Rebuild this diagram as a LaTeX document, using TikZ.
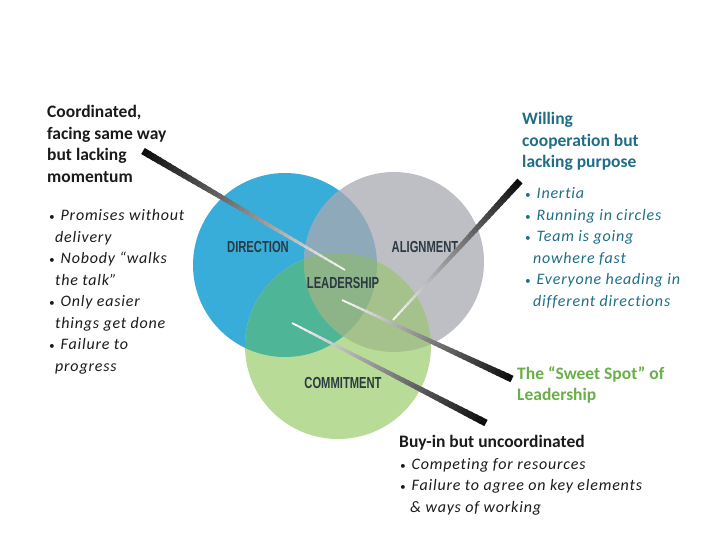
\documentclass[tikz,border=0pt]{standalone}
\usepackage{fontspec}
\setmainfont[Ligatures={NoCommon}]{Carlito}
\newfontfamily\condfont[FakeStretch=0.7]{Liberation Sans}
\newfontfamily\itlfont[LetterSpace=5,Ligatures={NoCommon}]{Carlito}
\usetikzlibrary{calc}
\definecolor{cblue}{HTML}{39ADDA}
\definecolor{cgray}{HTML}{BEBFC4}
\definecolor{cgreen}{HTML}{B8DC98}
\definecolor{cbg}{HTML}{8EA9B9}
\definecolor{cbgr}{HTML}{4FB597}
\definecolor{cggr}{HTML}{A6C28C}
\definecolor{call}{HTML}{8CB488}
\definecolor{lbl}{HTML}{2B3A42}
\definecolor{teal}{HTML}{1F6E86}
\definecolor{sweet}{HTML}{6AAE4A}
\definecolor{ink}{HTML}{1A1A1A}
\newcommand\lns[1]{\vtop{\baselineskip=21.5pt\lineskiplimit=-100pt\halign{##\hfil\cr#1\crcr}}}
\newcommand\bul{{\fontsize{11}{11}\selectfont•}\hspace*{6pt}}
\begin{document}
\begin{tikzpicture}[x=1pt,y=-1pt,
  head/.style={anchor=base west, inner sep=0pt, font=\fontsize{17.5}{21.5}\selectfont\bfseries},
  itl/.style={anchor=base west, inner sep=0pt, font=\itlfont\fontsize{16}{21.5}\selectfont\itshape},
  vlabel/.style={font=\condfont\bfseries\fontsize{16}{16}\selectfont, text=lbl, inner sep=0pt}]
\useasboundingbox (0,0) rectangle (720,540);
% circles
\coordinate (B) at (285,265);
\coordinate (G) at (394,262);
\coordinate (C) at (338,346);
\fill[cblue] (B) circle (92pt);
\fill[cgray] (G) circle (90pt);
\fill[cgreen] (C) circle (93pt);
\begin{scope}\clip (B) circle (92pt); \fill[cbg] (G) circle (90pt);\end{scope}
\begin{scope}\clip (B) circle (92pt); \fill[cbgr] (C) circle (93pt);\end{scope}
\begin{scope}\clip (G) circle (90pt); \fill[cggr] (C) circle (93pt);\end{scope}
\begin{scope}\clip (B) circle (92pt); \clip (G) circle (90pt); \fill[call] (C) circle (93pt);\end{scope}
% labels
\node[vlabel] (dir) at (258,247) {DIRECTION};
\node[vlabel] (ali) at (425,247) {ALIGNMENT};
\node[vlabel] (lea) at (343,283) {LEADERSHIP};
\node[vlabel] (com) at (343,383) {COMMITMENT};
% pointer bars
\coordinate (b1o) at (143,151);
\coordinate (b1i) at (345,270);
\coordinate (b2o) at (520,181);
\coordinate (b2i) at (393,320);
\coordinate (b3o) at (512,379);
\coordinate (b3i) at (342,300);
\coordinate (b4o) at (486,423);
\coordinate (b4i) at (292,323);
\foreach \s/\e in {b1o/b1i,b2o/b2i,b3o/b3i,b4o/b4i}{
  \foreach \i in {0,...,39}{
    \pgfmathsetmacro\ta{\i/40}
    \pgfmathsetmacro\tb{min(1,(\i+1.4)/40)}
    \pgfmathsetmacro\w{7-5.5*\ta}
    \pgfmathsetmacro\c{95*(1-\ta)}
    \draw[line width=\w pt, black!\c] ($(\s)!\ta!(\e)$) -- ($(\s)!\tb!(\e)$);
  }
}
% texts
\node[head, text=ink] (lh) at (47,118) {\lns{Coordinated,\cr facing same way\cr but lacking\cr momentum}};
\node[itl, text=ink] (lb) at (49,221) {\lns{\bul Promises without\cr\hspace*{6pt}delivery\cr \bul Nobody “walks\cr\hspace*{6pt}the talk”\cr \bul Only easier\cr\hspace*{6pt}things get done\cr \bul Failure to\cr\hspace*{6pt}progress}};
\node[head, text=teal] (rh) at (522,125) {\lns{Willing\cr cooperation but\cr lacking purpose}};
\node[itl, text=teal] (rb) at (525,199) {\lns{\bul Inertia\cr \bul Running in circles\cr \bul Team is going\cr\hspace*{8pt}nowhere fast\cr \bul Everyone heading in\cr\hspace*{8pt}different directions}};
\node[head, text=sweet] (sw) at (517,379) {\lns{The “Sweet Spot” of\cr Leadership}};
\node[head, text=ink] (bh) at (399,447) {Buy-in but uncoordinated};
\node[itl, text=ink] (bb) at (400,469) {\lns{\bul Competing for resources\cr \bul Failure to agree on key elements\cr\hspace*{10pt}\& ways of working}};
\end{tikzpicture}
\end{document}
